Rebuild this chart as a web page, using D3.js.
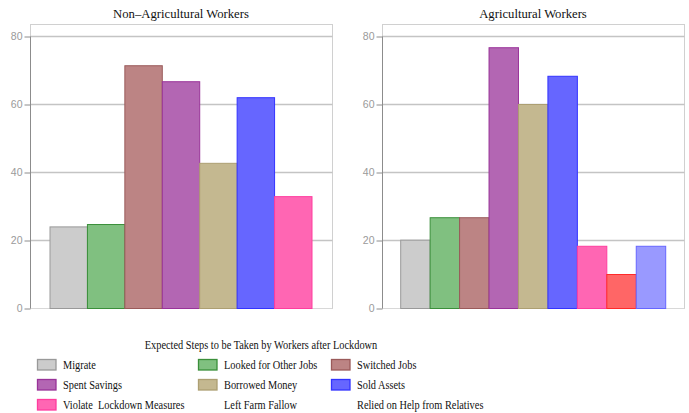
<!DOCTYPE html>
<html>
<head>
<meta charset="utf-8">
<script src="https://cdn.jsdelivr.net/npm/d3@7"></script>
<style>
  html, body { margin: 0; padding: 0; background: #fff; }
  svg { display: block; }
  text { white-space: pre; }
</style>
</head>
<body>
<svg id="chart" width="689" height="413"></svg>
<script>
// ---- data ----
const categories = ["Migrate", "Looked for Other Jobs", "Switched Jobs", "Spent Savings",
  "Borrowed Money", "Sold Assets", "Violate  Lockdown Measures", "Left Farm Fallow",
  "Relied on Help from Relatives"];
const fillColors = ["#cccccc", "#80c080", "#bc8484", "#b366b3", "#c4b890", "#6666ff", "#ff66b3", "#ff6666", "#9999ff"];
const strokeColors = ["#999999", "#3a8f3a", "#9a5a5a", "#993399", "#ad9f72", "#3333ff", "#ff3d9e", "#ff2a2a", "#6666ff"];
const nonAgCategories = categories.slice(0, 7);
const nonAgValues = [24.0, 24.7, 71.4, 66.7, 42.7, 62.0, 32.9];
const agCategories = categories.slice(0, 9);
const agValues = [20.1, 26.7, 26.7, 76.7, 60.0, 68.3, 18.3, 10.0, 18.3];
const yTicks = [0, 20, 40, 60, 80];
const panelTitles = ["Non\u2013Agricultural Workers", "Agricultural Workers"];
const legendTitle = "Expected Steps to be Taken by Workers after Lockdown";
const legendSwatch = [true, true, true, true, true, true, true, false, false];

const svg = d3.select("#chart");
const serif = "'Liberation Serif', 'DejaVu Serif', serif";
const sans = "'Liberation Sans', Arial, sans-serif";

function panel(cfg) {
  const g = svg.append("g");
  const { left, right, top, bottom, barL, barR, cats, vals, title } = cfg;
  const y = d3.scaleLinear().domain([0, 80]).range([308.5, 36.5]);
  const x = d3.scaleBand().domain(cats).range([barL, barR]).padding(0);

  // frame
  g.append("rect").attr("x", left + 0.5).attr("y", top + 0.5)
    .attr("width", right - left).attr("height", bottom - top)
    .attr("fill", "none").attr("stroke", "#d0d0d0").attr("stroke-width", 1);

  // gridlines
  g.selectAll("line.grid").data(yTicks.filter(t => t > 0)).enter().append("line")
    .attr("x1", left).attr("x2", right + 0.5)
    .attr("y1", d => y(d)).attr("y2", d => y(d))
    .attr("stroke", "#c4c4c4").attr("stroke-width", 1.6);
  g.append("line").attr("x1", left).attr("x2", right + 0.5)
    .attr("y1", y(0)).attr("y2", y(0)).attr("stroke", "#d8d8d8").attr("stroke-width", 1.2);

  // bars
  g.selectAll("rect.bar").data(cats).enter().append("rect")
    .attr("x", d => x(d)).attr("width", x.bandwidth())
    .attr("y", (d, i) => y(vals[i])).attr("height", (d, i) => y(0) - y(vals[i]))
    .attr("fill", (d, i) => fillColors[i])
    .attr("stroke", (d, i) => strokeColors[i]).attr("stroke-width", 1);

  // y axis
  const axis = d3.axisLeft(y).tickValues(yTicks).tickSize(6).tickPadding(2);
  const ag = g.append("g").attr("transform", `translate(${left + 0.5},0)`).call(axis);
  ag.select(".domain").attr("stroke", "#8c8c8c").attr("d", `M0,${y(80)}V${y(0)}`);
  ag.selectAll(".tick line").attr("stroke", "#8c8c8c");
  ag.selectAll(".tick text").attr("fill", "#9a9a9a").style("font-family", sans).style("font-size", "10.5px");

  // title
  g.append("text").attr("x", (left + right) / 2).attr("y", 18)
    .attr("text-anchor", "middle").style("font-family", serif).style("font-size", "12.7px")
    .attr("fill", "#111").text(title);
}

panel({ left: 30, right: 332, top: 24, bottom: 308, barL: 50, barR: 312,
  cats: nonAgCategories, vals: nonAgValues, title: panelTitles[0] });
panel({ left: 382, right: 684, top: 24, bottom: 308, barL: 400.7, barR: 665.7,
  cats: agCategories, vals: agValues, title: panelTitles[1] });

// legend (condensed serif text)
const sx = 0.815;
const lg = svg.append("g");
lg.append("text").attr("transform", `translate(261,348.5) scale(${sx},1)`).attr("text-anchor", "middle")
  .style("font-family", serif).style("font-size", "12.7px").attr("fill", "#111").text(legendTitle);
const colX = [37, 198, 331];
categories.forEach((c, i) => {
  const col = i % 3, row = Math.floor(i / 3);
  const x0 = colX[col], y0 = 359.5 + row * 20;
  if (legendSwatch[i]) {
    lg.append("rect").attr("x", x0 + 0.5).attr("y", y0).attr("width", 18.5).attr("height", 10.5)
      .attr("fill", fillColors[i]).attr("stroke", strokeColors[i]).attr("stroke-width", 1.3);
  }
  lg.append("text").attr("transform", `translate(${x0 + 26},${y0 + 9.8}) scale(${sx},1)`)
    .style("font-family", serif).style("font-size", "12.7px").attr("fill", "#111").text(c);
});
</script>
</body>
</html>
